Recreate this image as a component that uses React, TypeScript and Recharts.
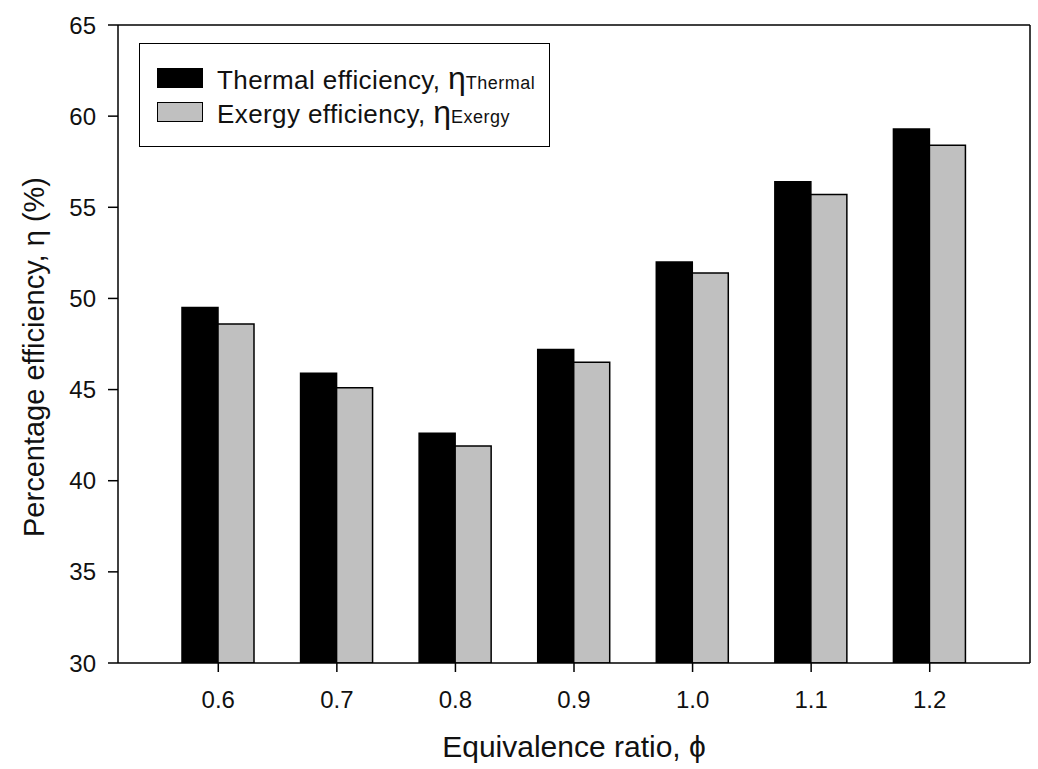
import React from "react";
import { BarChart, Bar, XAxis, YAxis, Legend, CartesianGrid } from "recharts";

const ratios = ["0.6", "0.7", "0.8", "0.9", "1.0", "1.1", "1.2"];
const thermal = [49.5, 45.9, 42.6, 47.2, 52.0, 56.4, 59.3];
const exergy = [48.6, 45.1, 41.9, 46.5, 51.4, 55.7, 58.4];
const yTicks = [30, 35, 40, 45, 50, 55, 60, 65];

const seriesLabels = ["Thermal efficiency, ", "Exergy efficiency, "];
const seriesSubs = ["Thermal", "Exergy"];
const seriesFills = ["#000000", "#c0c0c0"];

const data = ratios.map((r, i) => ({
  phi: r,
  thermal: thermal[i],
  exergy: exergy[i]
}));

const font = "'Liberation Sans', Arial, sans-serif";

function LegendBox() {
  return (
    <div
      style={{
        width: 409,
        height: 85,
        border: "1.5px solid #000",
        background: "#fff",
        paddingTop: 17,
        boxSizing: "content-box",
        fontFamily: font
      }}
    >
      {seriesLabels.map((label, i) => (
        <div
          key={label}
          style={{ display: "flex", alignItems: "center", height: 34, marginLeft: 17 }}
        >
          <div
            style={{
              width: 44,
              height: 18,
              background: seriesFills[i],
              border: "1.5px solid #000",
              marginRight: 14
            }}
          />
          <span style={{ fontSize: 26, letterSpacing: 0.4, color: "#111", whiteSpace: "nowrap" }}>
            {label}
            <span style={{ fontSize: 32, letterSpacing: 0 }}>η</span>
            <span style={{ fontSize: 18, letterSpacing: 0.5 }}>{seriesSubs[i]}</span>
          </span>
        </div>
      ))}
    </div>
  );
}

function YTitle() {
  return (
    <text
      x={34}
      y={357}
      transform="rotate(-90, 34, 357)"
      textAnchor="middle"
      dominantBaseline="central"
      fontSize={29}
      fontFamily={font}
      fill="#111"
    >
      Percentage efficiency, η (%)
    </text>
  );
}

export default function App() {
  return (
    <div style={{ position: "absolute", left: 0, top: 0, background: "#fff" }}>
      <BarChart
        width={1038}
        height={769}
        data={data}
        margin={{ top: 25, right: 8, bottom: 0, left: 0 }}
        barGap={0}
      >
        {/* frame: top and right edges of the plot box */}
        <CartesianGrid
          stroke="#000"
          strokeWidth={1.5}
          fill="none"
          horizontalCoordinatesGenerator={({ offset }: any) => [offset.top]}
          verticalCoordinatesGenerator={({ offset }: any) => [offset.left + offset.width]}
        />
        <XAxis
          dataKey="phi"
          height={106}
          padding={{ left: 41, right: 41 }}
          tickSize={9}
          tickMargin={19}
          axisLine={{ stroke: "#000", strokeWidth: 1.5 }}
          tickLine={{ stroke: "#000", strokeWidth: 1.5 }}
          tick={{ fill: "#111", fontSize: 24, fontFamily: font }}
          label={{
            value: "Equivalence ratio, ϕ",
            position: "insideBottom",
            offset: 12,
            fill: "#111",
            fontSize: 30,
            fontFamily: font
          }}
        />
        <YAxis
          domain={[30, 65]}
          ticks={yTicks}
          width={118}
          allowDataOverflow
          tickSize={10}
          tickMargin={12}
          axisLine={{ stroke: "#000", strokeWidth: 1.5 }}
          tickLine={{ stroke: "#000", strokeWidth: 1.5 }}
          tick={{ fill: "#111", fontSize: 24, fontFamily: font }}
          label={<YTitle />}
        />
        <Legend
          layout="vertical"
          align="center"
          verticalAlign="middle"
          wrapperStyle={{ top: 43, left: 139, width: "auto" }}
          content={() => <LegendBox />}
        />
        <Bar
          dataKey="thermal"
          name={seriesLabels[0] + "η" + seriesSubs[0]}
          fill={seriesFills[0]}
          stroke="#000"
          strokeWidth={1.5}
          barSize={36}
          isAnimationActive={false}
        />
        <Bar
          dataKey="exergy"
          name={seriesLabels[1] + "η" + seriesSubs[1]}
          fill={seriesFills[1]}
          stroke="#000"
          strokeWidth={1.5}
          barSize={36}
          isAnimationActive={false}
        />
      </BarChart>
    </div>
  );
}
